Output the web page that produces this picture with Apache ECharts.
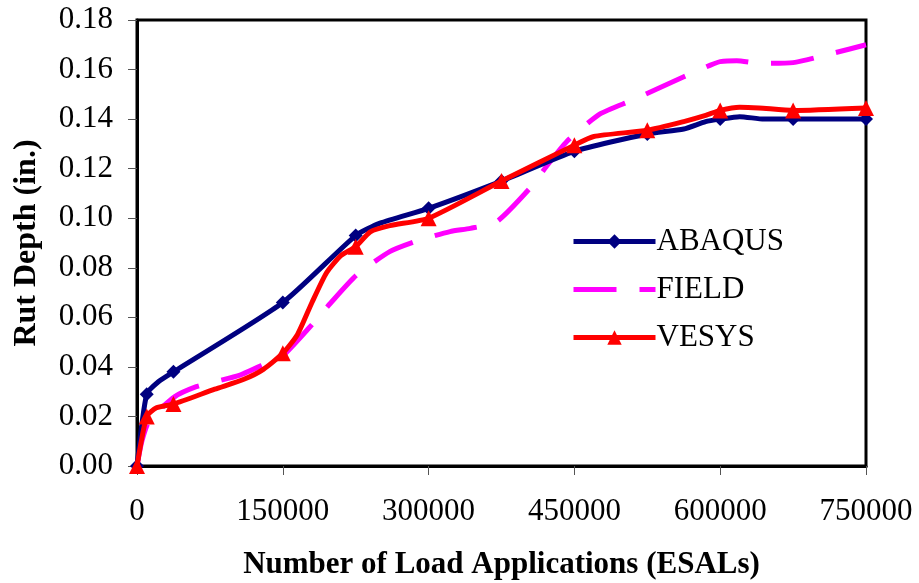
<!DOCTYPE html>
<html>
<head>
<meta charset="utf-8">
<script src="https://cdn.jsdelivr.net/npm/echarts@6/dist/echarts.min.js"></script>
<style>
  html, body { margin: 0; padding: 0; background: #fff; }
  #chart { width: 919px; height: 583px; }
</style>
</head>
<body>
<div id="chart"></div>
<script>
// ---- Data ----
const xTicks = [0, 150000, 300000, 450000, 600000, 750000];
const markerX = [0, 10000, 37500, 150000, 225000, 300000, 375000, 450000, 525000, 600000, 675000, 750000];

const abaqusX = [0, 10000, 22000, 37500, 150000, 225000, 250000, 300000, 375000, 450000, 525000, 562500, 585000, 600000, 620000, 645000, 675000, 750000];
const abaqusY = [0, 0.029, 0.034, 0.038, 0.066, 0.093, 0.098, 0.104, 0.115, 0.127, 0.134, 0.136, 0.139, 0.140, 0.141, 0.140, 0.140, 0.140];

const fieldX = [0, 5000, 13000, 39000, 61000, 80000, 106000, 133000, 150000, 178000, 199000, 226000, 260000, 288000, 322000, 343000, 370000, 404000, 421000, 442000, 476000, 510000, 562000, 590000, 600000, 617000, 641000, 675000, 716000, 750000];
const fieldY = [0, 0.010, 0.0186, 0.028, 0.032, 0.034, 0.0367, 0.0414, 0.0445, 0.0562, 0.0657, 0.0771, 0.0865, 0.0908, 0.0946, 0.0959, 0.0986, 0.112, 0.1208, 0.1309, 0.1420, 0.1477, 0.157, 0.1618, 0.1632, 0.1636, 0.1625, 0.1628, 0.1666, 0.170];

const vesysX = [0, 10000, 20000, 37500, 80000, 110000, 130000, 150000, 165000, 180000, 195000, 210000, 225000, 240000, 260000, 300000, 375000, 450000, 470000, 525000, 562500, 585000, 600000, 620000, 640000, 675000, 750000];
const vesysY = [0, 0.020, 0.0235, 0.025, 0.031, 0.035, 0.039, 0.0455, 0.053, 0.066, 0.078, 0.085, 0.0885, 0.0945, 0.097, 0.100, 0.115, 0.1295, 0.133, 0.1355, 0.139, 0.1415, 0.1435, 0.1448, 0.1445, 0.1435, 0.1445];

const seriesNames = ['ABAQUS', 'FIELD', 'VESYS'];

// ---- Build ----
function build(xs, ys, sym) {
  return xs.map((x, i) => ({
    value: [x, ys[i]],
    symbol: (sym && markerX.includes(x)) ? sym : 'none'
  }));
}

const font = 'Liberation Serif, Times New Roman, serif';
const chart = echarts.init(document.getElementById('chart'), null, { renderer: 'canvas' });

chart.setOption({
  animation: false,
  backgroundColor: '#fff',
  textStyle: { fontFamily: font },
  grid: {
    left: 137, right: 53, top: 20, bottom: 117,
    containLabel: false, outerBoundsMode: 'none',
    show: true, borderColor: '#000', borderWidth: 3, backgroundColor: 'transparent'
  },
  legend: {
    orient: 'vertical',
    left: 566, top: 221,
    itemWidth: 82, itemHeight: 18, itemGap: 17,
    lineStyle: { width: 5 },
    textStyle: { fontFamily: font, fontSize: 31, color: '#000', padding: [0, 0, 0, -4] },
    data: [
      { name: seriesNames[0] },
      { name: seriesNames[1], icon: 'path://M0,0H43V5H0Z M66,0H82V5H66Z' },
      { name: seriesNames[2] }
    ]
  },
  xAxis: {
    type: 'value', min: 0, max: 750000, interval: 150000,
    name: 'Number of Load Applications (ESALs)',
    nameLocation: 'middle', nameGap: 83,
    nameTextStyle: { fontFamily: font, fontSize: 31, fontWeight: 'bold', color: '#000' },
    axisLine: { show: true, lineStyle: { color: '#000', width: 3 } },
    axisTick: { show: true, inside: false, length: 9, lineStyle: { color: '#555', width: 1 } },
    axisLabel: { fontFamily: font, fontSize: 31, color: '#000', margin: 30,
      formatter: v => String(v) },
    splitLine: { show: false }
  },
  yAxis: {
    type: 'value', min: 0, max: 0.18, interval: 0.02,
    name: 'Rut Depth (in.)',
    nameLocation: 'middle', nameGap: 94,
    nameTextStyle: { fontFamily: font, fontSize: 32, fontWeight: 'bold', color: '#000' },
    axisLine: { show: true, lineStyle: { color: '#000', width: 3 } },
    axisTick: { show: true, inside: false, length: 9, lineStyle: { color: '#555', width: 1 } },
    axisLabel: { fontFamily: font, fontSize: 31, color: '#000', margin: 24,
      formatter: v => v.toFixed(2) },
    splitLine: { show: false }
  },
  series: [
    {
      name: seriesNames[0], type: 'line', clip: false, smooth: 0.2,
      symbol: 'diamond', symbolSize: 14,
      data: build(abaqusX, abaqusY, 'diamond'),
      lineStyle: { color: '#000080', width: 5 },
      itemStyle: { color: '#000080' },
      z: 3
    },
    {
      name: seriesNames[1], type: 'line', clip: false, smooth: 0.2,
      symbol: 'none', showSymbol: false,
      data: build(fieldX, fieldY, null),
      lineStyle: { color: '#FF00FF', width: 5, type: [43, 23], cap: 'butt' },
      itemStyle: { color: '#FF00FF' },
      z: 2
    },
    {
      name: seriesNames[2], type: 'line', clip: false, smooth: 0.2,
      symbol: 'triangle', symbolSize: 16,
      data: build(vesysX, vesysY, 'triangle'),
      lineStyle: { color: '#FF0000', width: 5 },
      itemStyle: { color: '#FF0000' },
      z: 4
    }
  ]
});
</script>
</body>
</html>
